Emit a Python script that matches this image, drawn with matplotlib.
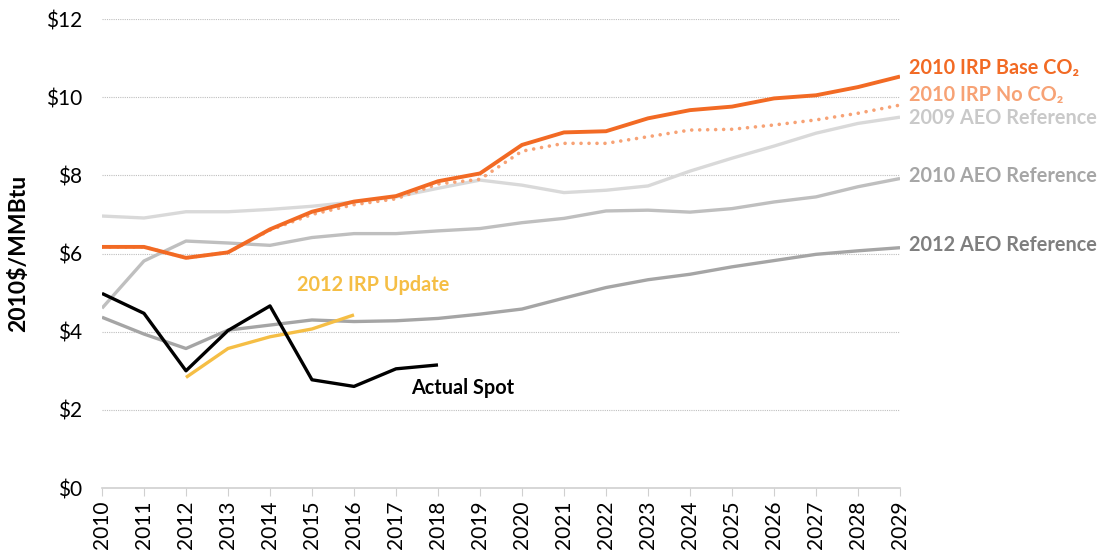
import matplotlib
matplotlib.use("Agg")
import matplotlib.pyplot as plt

plt.rcParams['font.family'] = ['Lato', 'DejaVu Sans']

years = list(range(2010, 2030))

base_co2 = [6.17, 6.17, 5.89, 6.03, 6.62, 7.07, 7.33, 7.47, 7.85, 8.05,
            8.78, 9.10, 9.13, 9.46, 9.67, 9.76, 9.97, 10.05, 10.26, 10.53]
no_co2 = [6.17, 6.17, 5.89, 6.03, 6.60, 7.00, 7.25, 7.40, 7.78, 7.90,
          8.62, 8.82, 8.82, 8.99, 9.16, 9.18, 9.29, 9.42, 9.59, 9.80]
aeo_2009 = [6.96, 6.91, 7.07, 7.07, 7.13, 7.21, 7.32, 7.45, 7.67, 7.88,
            7.75, 7.56, 7.62, 7.73, 8.11, 8.44, 8.75, 9.08, 9.33, 9.49]
aeo_2010 = [4.60, 5.81, 6.32, 6.27, 6.21, 6.41, 6.51, 6.51, 6.58, 6.64,
            6.79, 6.90, 7.09, 7.11, 7.06, 7.15, 7.32, 7.45, 7.71, 7.92]
aeo_2012 = [4.37, 3.94, 3.57, 4.04, 4.17, 4.30, 4.26, 4.28, 4.34, 4.45,
            4.58, 4.86, 5.13, 5.33, 5.47, 5.66, 5.82, 5.98, 6.07, 6.15]
irp_update_years = [2012, 2013, 2014, 2015, 2016]
irp_update = [2.83, 3.57, 3.87, 4.07, 4.43]
spot_years = list(range(2010, 2019))
actual_spot = [4.98, 4.47, 3.00, 4.03, 4.66, 2.77, 2.60, 3.05, 3.15]

c_base = '#F26A24'
c_noco2 = '#F7A275'
c_09 = '#D9D9D9'
c_10 = '#BFBFBF'
c_12 = '#A5A5A5'
c_irp = '#F5BE45'

fig = plt.figure(figsize=(11, 5.53), dpi=100)
ax = fig.add_axes([0.0927, 0.1175, 0.7255, 0.848])

# grid
for v in range(2, 13, 2):
    ax.axhline(v, color='#BFBFBF', lw=0.8, ls=(0, (1, 1)), zorder=0)

ax.plot(years, aeo_2009, color=c_09, lw=2.4, solid_capstyle='butt')
ax.plot(years, aeo_2010, color=c_10, lw=2.4, solid_capstyle='butt')
ax.plot(years, aeo_2012, color=c_12, lw=2.4, solid_capstyle='butt')
ax.plot(years, no_co2, color=c_noco2, lw=2.6, ls=(0, (0.01, 2.2)),
        dash_capstyle='round')
ax.plot(years, base_co2, color=c_base, lw=2.8, solid_capstyle='butt')
ax.plot(irp_update_years, irp_update, color=c_irp, lw=2.4, solid_capstyle='butt')
ax.plot(spot_years, actual_spot, color='black', lw=2.4, solid_capstyle='butt')

ax.set_xlim(2010, 2029)
ax.set_ylim(0, 12)
ax.set_yticks(range(0, 13, 2))
ax.set_yticklabels(['$%d' % v for v in range(0, 13, 2)], fontsize=15)
ax.set_xticks(years)
ax.set_xticklabels([str(y) for y in years], rotation=90, fontsize=15)
ax.tick_params(axis='y', length=0, pad=14.5)
ax.tick_params(axis='x', length=6, color='#D0D0D0', direction='out', pad=3)
for s in ['top', 'right', 'left']:
    ax.spines[s].set_visible(False)
ax.spines['bottom'].set_color('#D0D0D0')
ax.spines['bottom'].set_linewidth(1.2)
ax.set_ylabel('2010$/MMBtu', fontsize=16.5, fontweight='bold', labelpad=12)

# labels
lab_kw = dict(fontsize=14.3, fontweight='bold', va='center', ha='left',
              clip_on=False)
ax.text(2029.22, 10.76, '2010 IRP Base CO\u2082', color=c_base, **lab_kw)
ax.text(2029.22, 10.06, '2010 IRP No CO\u2082', color=c_noco2, **lab_kw)
ax.text(2029.22, 9.47, '2009 AEO Reference', color='#C9C9C9', **lab_kw)
ax.text(2029.22, 7.98, '2010 AEO Reference', color='#A6A6A6', **lab_kw)
ax.text(2029.22, 6.22, '2012 AEO Reference', color='#7F7F7F', **lab_kw)
ax.text(2014.65, 5.19, '2012 IRP Update', color=c_irp, fontsize=14.3,
        fontweight='bold', va='center', ha='left')
ax.text(2017.35, 2.56, 'Actual Spot', color='black', fontsize=14.3,
        fontweight='bold', va='center', ha='left')

fig.savefig('out.png', dpi=100)
